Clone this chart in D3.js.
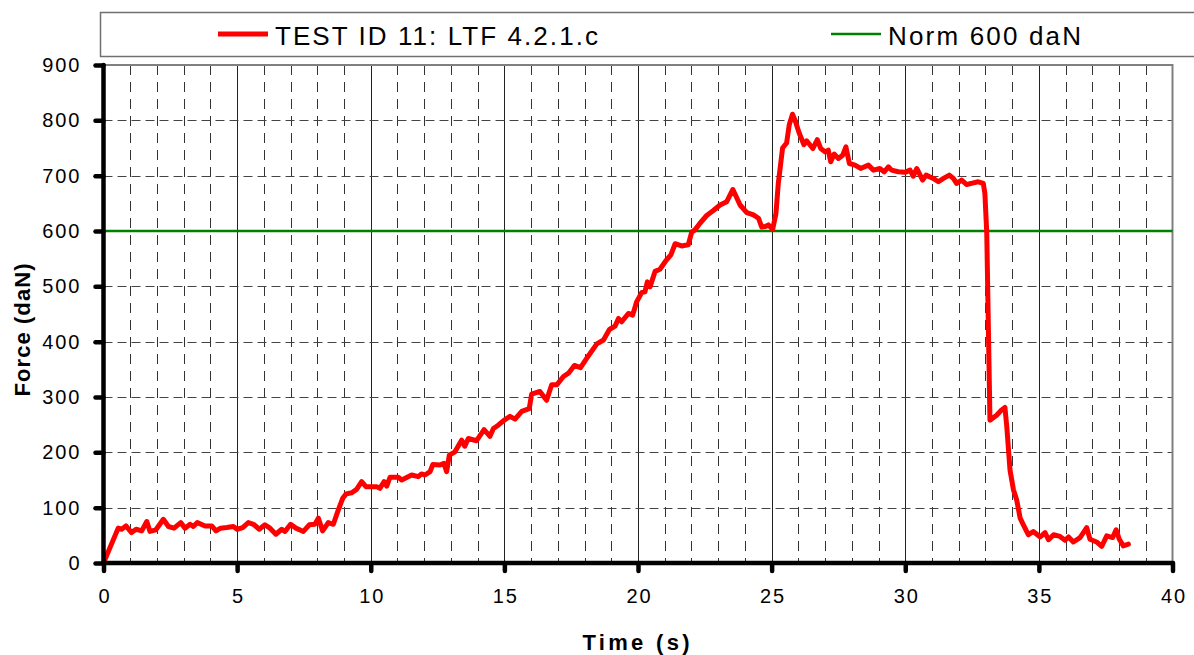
<!DOCTYPE html>
<html lang="en">
<head>
  <meta charset="UTF-8">
  <title>Force vs Time - TEST ID 11</title>
  <style>
    html, body {
      margin: 0;
      background-color: #ffffff;
    }
    svg {
      display: block;
      font-family: "Liberation Sans", Arial, sans-serif;
    }
  </style>
</head>
<body>
  <svg id="chart" width="1194" height="655"></svg>

  <script src="https://cdnjs.cloudflare.com/ajax/libs/d3/7.8.5/d3.min.js"></script>
  <script>
    const timeS = [
      0, 0.55, 0.68, 0.84, 1.05, 1.22, 1.43, 1.62, 1.74, 1.96,
      2.24, 2.43, 2.64, 2.89, 3.05, 3.24, 3.36, 3.51, 3.80, 4.05,
      4.21, 4.38, 4.61, 4.86, 5.00, 5.21, 5.42, 5.61, 5.83, 6.04,
      6.23, 6.45, 6.67, 6.79, 7.00, 7.20, 7.48, 7.70, 7.91, 8.04,
      8.20, 8.41, 8.60, 8.78, 8.95, 9.08, 9.29, 9.47, 9.66, 9.82,
      10.22, 10.34, 10.50, 10.60, 10.72, 11.03, 11.16, 11.53, 11.78, 11.90,
      12.03, 12.22, 12.32, 12.59, 12.74, 12.84, 12.94, 13.15, 13.40, 13.52,
      13.65, 13.96, 14.24, 14.46, 14.59, 14.77, 14.96, 15.21, 15.40, 15.65,
      15.93, 16.02, 16.33, 16.58, 16.77, 16.96, 17.21, 17.40, 17.62, 17.85,
      18.08, 18.46, 18.71, 18.93, 19.14, 19.27, 19.39, 19.64, 19.80, 19.95,
      20.14, 20.26, 20.35, 20.45, 20.64, 20.82, 21.07, 21.23, 21.39, 21.63,
      21.88, 22.01, 22.13, 22.32, 22.57, 22.82, 23.07, 23.32, 23.55, 23.82,
      24.07, 24.32, 24.51, 24.63, 24.76, 24.88, 25.04, 25.16, 25.25, 25.41,
      25.56, 25.66, 25.78, 25.87, 26.03, 26.21, 26.31, 26.54, 26.71, 26.84,
      27.00, 27.12, 27.21, 27.34, 27.50, 27.66, 27.78, 27.91, 28.12, 28.33,
      28.62, 28.81, 29.05, 29.21, 29.37, 29.49, 29.74, 29.99, 30.18, 30.30,
      30.43, 30.65, 30.78, 31.05, 31.24, 31.43, 31.65, 31.80, 31.92, 32.11,
      32.30, 32.55, 32.73, 32.92, 32.98, 33.05, 33.11, 33.17, 33.42, 33.57,
      33.73, 33.80, 33.92, 34.05, 34.17, 34.30, 34.42, 34.61, 34.79, 35.05,
      35.23, 35.36, 35.55, 35.79, 35.98, 36.11, 36.29, 36.54, 36.79, 36.91,
      37.16, 37.35, 37.54, 37.76, 37.89, 38.01, 38.16, 38.35
    ];
    const forceDaN = [
      0, 63, 61, 67, 55, 61, 58, 75, 57, 60,
      79, 66, 63, 73, 63, 70, 66, 73, 67, 67,
      58, 63, 64, 66, 61, 64, 73, 70, 61, 69,
      63, 52, 61, 57, 70, 63, 57, 69, 70, 81,
      58, 73, 70, 95, 117, 125, 127, 133, 147, 138,
      138, 135, 147, 139, 155, 155, 150, 159, 156, 161,
      159, 165, 178, 177, 180, 165, 195, 201, 222, 211,
      225, 221, 241, 229, 243, 249, 257, 265, 260, 274,
      279, 305, 310, 294, 322, 322, 337, 343, 357, 353,
      370, 396, 403, 422, 428, 442, 436, 451, 448, 472,
      489, 490, 508, 499, 527, 531, 548, 557, 577, 573,
      575, 598, 602, 614, 628, 637, 647, 653, 675, 647,
      633, 629, 623, 607, 608, 611, 603, 631, 686, 750,
      759, 792, 811, 801, 777, 756, 763, 749, 765, 749,
      743, 746, 725, 739, 731, 737, 752, 722, 719, 713,
      719, 710, 713, 707, 716, 710, 707, 706, 710, 699,
      713, 692, 701, 695, 689, 695, 701, 695, 686, 692,
      684, 687, 689, 686, 668, 596, 427, 258, 267, 275,
      281, 246, 168, 132, 114, 81, 69, 51, 57, 47,
      55, 42, 51, 48, 41, 47, 38, 46, 64, 43,
      38, 30, 49, 46, 60, 43, 31, 34
    ];
    const normForce = 600;
    const seriesLabels = ['TEST ID 11: LTF 4.2.1.c', 'Norm 600 daN'];
    const xTicks = [0, 5, 10, 15, 20, 25, 30, 35, 40];
    const xMinorTicks = d3.range(1, 40).filter(v => v % 5 !== 0);
    const yTicks = [0, 100, 200, 300, 400, 500, 600, 700, 800, 900];

    const plot = { left: 103.5, right: 1172.5, top: 65, bottom: 563 };
    const x = d3.scaleLinear().domain([0, 40]).range([plot.left, plot.right]);
    const y = d3.scaleLinear().domain([0, 900]).range([plot.bottom, plot.top]);

    const svg = d3.select('#chart');

    // legend box
    const legend = svg.append('g').attr('class', 'legend');
    legend.append('rect')
      .attr('x', 100.5).attr('y', 12.5)
      .attr('width', 1110).attr('height', 44)
      .attr('fill', '#fff')
      .attr('stroke', '#707070')
      .attr('stroke-width', 1.5);

    const legendItems = [
      { label: seriesLabels[0], color: '#ff0000', width: 5, x0: 218, x1: 268, tx: 275, len: 323 },
      { label: seriesLabels[1], color: '#008000', width: 2.5, x0: 831, x1: 881, tx: 888, len: 193 }
    ];
    legend.selectAll('line.key')
      .data(legendItems)
      .enter().append('line')
      .attr('class', 'key')
      .attr('x1', d => d.x0).attr('x2', d => d.x1)
      .attr('y1', 34).attr('y2', 34)
      .attr('stroke', d => d.color)
      .attr('stroke-width', d => d.width);
    legend.selectAll('text')
      .data(legendItems)
      .enter().append('text')
      .attr('x', d => d.tx).attr('y', 45)
      .attr('font-size', 26)
      .attr('textLength', d => d.len)
      .attr('lengthAdjust', 'spacing')
      .attr('fill', '#000')
      .text(d => d.label);

    // grid
    const grid = svg.append('g').attr('class', 'grid');
    grid.selectAll('line.minor-x')
      .data(xMinorTicks)
      .enter().append('line')
      .attr('class', 'minor-x')
      .attr('x1', d => Math.round(x(d)) + 0.5).attr('x2', d => Math.round(x(d)) + 0.5)
      .attr('y1', plot.top).attr('y2', plot.bottom)
      .attr('stroke', '#333')
      .attr('stroke-width', 1)
      .attr('stroke-dasharray', '10,7');
    grid.selectAll('line.major-x')
      .data(xTicks.filter(v => v > 0 && v < 40))
      .enter().append('line')
      .attr('class', 'major-x')
      .attr('x1', d => Math.round(x(d)) + 0.5).attr('x2', d => Math.round(x(d)) + 0.5)
      .attr('y1', plot.top).attr('y2', plot.bottom)
      .attr('stroke', '#222')
      .attr('stroke-width', 1);
    grid.selectAll('line.y')
      .data(yTicks.filter(v => v > 0 && v < 900))
      .enter().append('line')
      .attr('class', 'y')
      .attr('x1', plot.left).attr('x2', plot.right)
      .attr('y1', d => Math.round(y(d)) + 0.5).attr('y2', d => Math.round(y(d)) + 0.5)
      .attr('stroke', '#444')
      .attr('stroke-width', 1)
      .attr('stroke-dasharray', '9,5');

    // frame top / right
    svg.append('path')
      .attr('d', `M${plot.left},${plot.top}H${plot.right}V${plot.bottom}`)
      .attr('fill', 'none')
      .attr('stroke', '#808080')
      .attr('stroke-width', 2);

    // norm line
    svg.append('line')
      .attr('x1', plot.left).attr('x2', plot.right)
      .attr('y1', y(normForce)).attr('y2', y(normForce))
      .attr('stroke', '#008000')
      .attr('stroke-width', 2.5);

    // test curve
    const line = d3.line()
      .x((d, i) => x(timeS[i]))
      .y(d => y(d));
    svg.append('path')
      .datum(forceDaN)
      .attr('d', line)
      .attr('fill', 'none')
      .attr('stroke', '#ff0000')
      .attr('stroke-width', 5)
      .attr('stroke-linejoin', 'round')
      .attr('stroke-linecap', 'round');

    // axes
    const xAxis = svg.append('g')
      .attr('transform', `translate(0,${plot.bottom})`)
      .call(d3.axisBottom(x).tickValues(xTicks).tickSize(8).tickPadding(18));
    const yAxis = svg.append('g')
      .attr('transform', `translate(${plot.left},0)`)
      .call(d3.axisLeft(y).tickValues(yTicks).tickSize(8).tickPadding(14));

    [xAxis, yAxis].forEach(ax => {
      ax.select('.domain')
        .attr('stroke', '#000')
        .attr('stroke-width', 4.5)
        .attr('stroke-linecap', 'round');
      ax.selectAll('.tick line')
        .attr('stroke', '#000')
        .attr('stroke-width', 4.5)
        .attr('stroke-linecap', 'round');
      ax.selectAll('.tick text')
        .attr('font-family', '"Liberation Sans", Arial, sans-serif')
        .attr('font-size', 20)
        .attr('letter-spacing', 2)
        .attr('fill', '#000');
    });
    xAxis.select('.domain').attr('d', `M${plot.left},0H${plot.right}`);
    yAxis.select('.domain').attr('d', `M0,${plot.bottom}V${plot.top}`);
    xAxis.selectAll('.tick text').attr('dx', 1);

    // axis titles
    svg.append('text')
      .attr('x', 636).attr('y', 650)
      .attr('text-anchor', 'middle')
      .attr('font-size', 22)
      .attr('font-weight', 'bold')
      .attr('textLength', 107)
      .attr('lengthAdjust', 'spacing')
      .text('Time (s)');
    svg.append('text')
      .attr('transform', 'translate(30,330) rotate(-90)')
      .attr('text-anchor', 'middle')
      .attr('font-size', 22)
      .attr('font-weight', 'bold')
      .attr('textLength', 133)
      .attr('lengthAdjust', 'spacing')
      .text('Force (daN)');
  </script>
</body>
</html>
